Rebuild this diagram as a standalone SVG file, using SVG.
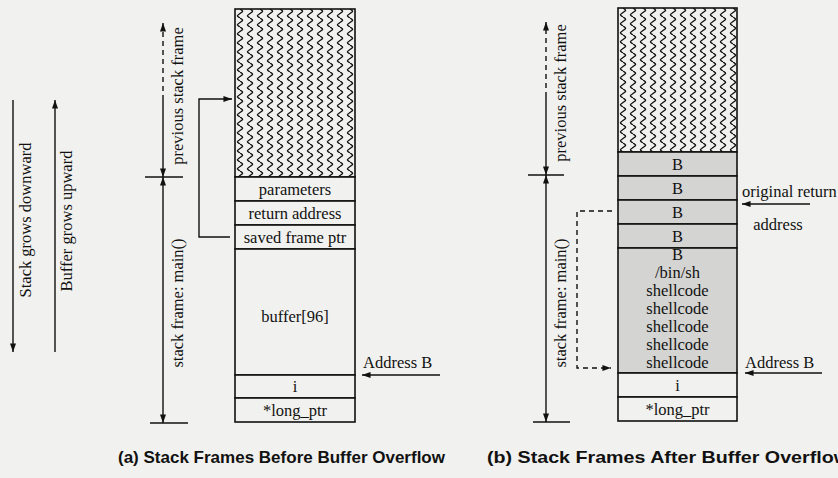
<svg xmlns="http://www.w3.org/2000/svg" width="838" height="478" viewBox="0 0 838 478">
<style>
.t{font-family:"Liberation Serif",serif;font-size:16.5px;fill:#111}
.c{text-anchor:middle}
.cap{font-family:"Liberation Sans",Arial,sans-serif;font-weight:bold;font-size:17px;fill:#111}
.cell{fill:#f1f1ef;stroke:#111;stroke-width:1.6}
.gray{fill:#d4d4d2;stroke:#111;stroke-width:1.6}
.ln{fill:none;stroke:#111;stroke-width:1.4}
.dash{fill:none;stroke:#111;stroke-width:1.4;stroke-dasharray:5 4}
</style>
<defs>
<marker id="ah" viewBox="0 0 10 7" refX="10" refY="3.5" markerWidth="9" markerHeight="6" markerUnits="userSpaceOnUse" orient="auto-start-reverse">
<path d="M0,0 L10,3.5 L0,7 z" fill="#111"/>
</marker>
<pattern id="waveA" patternUnits="userSpaceOnUse" x="235" y="9" width="10" height="9">
<path d="M5,0 C8.5,2.25 8.5,2.25 5,4.5 C1.5,6.75 1.5,6.75 5,9" fill="none" stroke="#111" stroke-width="1.4"/>
</pattern>
<pattern id="waveB" patternUnits="userSpaceOnUse" x="618" y="8" width="10" height="9">
<path d="M5,0 C8.5,2.25 8.5,2.25 5,4.5 C1.5,6.75 1.5,6.75 5,9" fill="none" stroke="#111" stroke-width="1.4"/>
</pattern>
</defs>
<rect x="0" y="0" width="838" height="478" fill="#f1f1ef"/>

<!-- left legend -->
<g id="legend">
<text class="t c" transform="translate(31,220) rotate(-90)">Stack grows downward</text>
<text class="t c" transform="translate(72,221) rotate(-90)">Buffer grows upward</text>
</g>

<!-- stack (a) -->
<g id="a-prev"><rect x="235" y="9" width="120" height="168" fill="#f1f1ef"/><rect x="235" y="9" width="120" height="168" fill="url(#waveA)" stroke="#111" stroke-width="1.6"/></g>
<g id="a-params"><rect class="cell" x="235" y="177" width="120" height="24"/><text class="t c" x="295" y="195">parameters</text></g>
<g id="a-ret"><rect class="cell" x="235" y="201" width="120" height="24"/><text class="t c" x="295" y="219">return address</text></g>
<g id="a-sfp"><rect class="cell" x="235" y="225" width="120" height="24"/><text class="t c" x="295" y="243">saved frame ptr</text></g>
<g id="a-buf"><rect class="cell" x="235" y="249" width="120" height="126"/><text class="t c" x="295" y="322">buffer[96]</text></g>
<g id="a-i"><rect class="cell" x="235" y="375" width="120" height="23"/><text class="t c" x="295" y="392">i</text></g>
<g id="a-lp"><rect class="cell" x="235" y="398" width="120" height="24"/><text class="t c" x="295" y="416">*long_ptr</text></g>
<g id="a-labels">
<text class="t c" transform="translate(183,96) rotate(-90)">previous stack frame</text>
<text class="t c" transform="translate(183,303) rotate(-90)">stack frame: main()</text>
<text class="t" x="363" y="368">Address B</text>
</g>

<!-- stack (b) -->
<g id="b-prev"><rect x="618" y="8" width="119" height="144" fill="#f1f1ef"/><rect x="618" y="8" width="119" height="144" fill="url(#waveB)" stroke="#111" stroke-width="1.6"/></g>
<g id="b-b1"><rect class="gray" x="618" y="152" width="119" height="24"/><text class="t c" x="677.5" y="170">B</text></g>
<g id="b-b2"><rect class="gray" x="618" y="176" width="119" height="24"/><text class="t c" x="677.5" y="194">B</text></g>
<g id="b-b3"><rect class="gray" x="618" y="200" width="119" height="24"/><text class="t c" x="677.5" y="218">B</text></g>
<g id="b-b4"><rect class="gray" x="618" y="224" width="119" height="24"/><text class="t c" x="677.5" y="242">B</text></g>
<g id="b-shell"><rect class="gray" x="618" y="248" width="119" height="125"/>
<text class="t c" x="677.5" y="260">B</text>
<text class="t c" x="677.5" y="278">/bin/sh</text>
<text class="t c" x="677.5" y="296">shellcode</text>
<text class="t c" x="677.5" y="314">shellcode</text>
<text class="t c" x="677.5" y="332">shellcode</text>
<text class="t c" x="677.5" y="350">shellcode</text>
<text class="t c" x="677.5" y="368">shellcode</text>
</g>
<g id="b-i"><rect class="cell" x="618" y="373" width="119" height="24"/><text class="t c" x="677.5" y="391">i</text></g>
<g id="b-lp"><rect class="cell" x="618" y="397" width="119" height="24"/><text class="t c" x="677.5" y="415">*long_ptr</text></g>
<g id="b-labels">
<text class="t c" transform="translate(566,93) rotate(-90)">previous stack frame</text>
<text class="t c" transform="translate(566,303) rotate(-90)">stack frame: main()</text>
<text class="t" x="742" y="197">original return</text>
<text class="t c" x="778" y="230">address</text>
<text class="t" x="745" y="368">Address B</text>
</g>

<!-- connectors -->
<g id="connectors">
<line class="ln" x1="13" y1="100" x2="13" y2="352" marker-end="url(#ah)"/>
<line class="ln" x1="55" y1="352" x2="55" y2="100" marker-end="url(#ah)"/>

<line class="dash" x1="163" y1="100" x2="163" y2="23" marker-end="url(#ah)"/>
<line class="ln" x1="163" y1="100" x2="163" y2="177" marker-end="url(#ah)"/>
<line class="ln" x1="163" y1="177" x2="163" y2="423" marker-start="url(#ah)" marker-end="url(#ah)"/>
<line class="ln" x1="145" y1="177" x2="183" y2="177"/>
<line class="ln" x1="150" y1="423" x2="188" y2="423"/>
<polyline class="ln" points="230,237 199,237 199,99 232,99" marker-end="url(#ah)"/>
<line class="ln" x1="440" y1="375" x2="362" y2="375" marker-end="url(#ah)"/>

<line class="dash" x1="546" y1="97" x2="546" y2="22" marker-end="url(#ah)"/>
<line class="ln" x1="546" y1="97" x2="546" y2="175" marker-end="url(#ah)"/>
<line class="ln" x1="546" y1="175" x2="546" y2="422" marker-start="url(#ah)" marker-end="url(#ah)"/>
<line class="ln" x1="528" y1="175" x2="564" y2="175"/>
<line class="ln" x1="533" y1="422" x2="570" y2="422"/>
<polyline class="dash" points="612,211 577,211 577,368 611,368" marker-end="url(#ah)"/>
<line class="ln" x1="810" y1="204" x2="742" y2="204" marker-end="url(#ah)"/>
<line class="ln" x1="822" y1="373" x2="745" y2="373" marker-end="url(#ah)"/>
</g>

<g id="captions">
<text class="cap" x="118" y="463" textLength="327" lengthAdjust="spacingAndGlyphs">(a) Stack Frames Before Buffer Overflow</text>
<text class="cap" x="487" y="463" textLength="362" lengthAdjust="spacingAndGlyphs">(b) Stack Frames After Buffer Overflow</text>
</g>
</svg>
